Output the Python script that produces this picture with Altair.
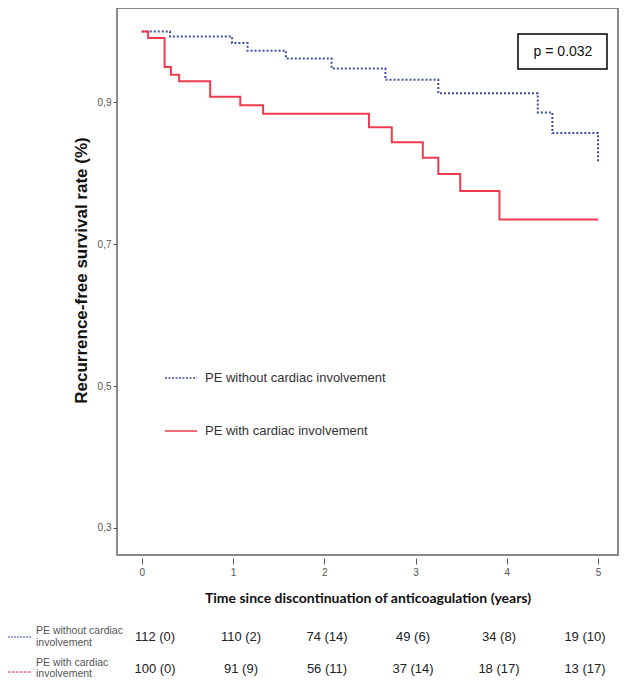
import altair as alt
import pandas as pd

# ---- data ----
blue_name = "PE without cardiac involvement"
red_name = "PE with cardiac involvement"

blue_times = [0, 0.31, 0.99, 1.16, 1.58, 2.08, 2.67, 3.25, 4.34, 4.50, 5.0]
blue_surv = [1.0, 0.993, 0.984, 0.973, 0.962, 0.948, 0.932, 0.913, 0.886, 0.857, 0.816]

red_times = [0, 0.07, 0.25, 0.32, 0.41, 0.75, 1.08, 1.33, 2.49, 2.74, 3.08, 3.25, 3.49, 3.92, 5.0]
red_surv = [1.0, 0.991, 0.950, 0.939, 0.930, 0.908, 0.896, 0.884, 0.865, 0.844, 0.822, 0.799, 0.775, 0.735, 0.735]

risk_years = [0, 1, 2, 3, 4, 5]
blue_at_risk = ["112 (0)", "110 (2)", "74 (14)", "49 (6)", "34 (8)", "19 (10)"]
red_at_risk = ["100 (0)", "91  (9)", "56 (11)", "37 (14)", "18 (17)", "13 (17)"]

x_ticks = [0, 1, 2, 3, 4, 5]
y_ticks = [0.3, 0.5, 0.7, 0.9]
p_text = "p = 0.032"

BLUE = "#3d4e9e"
RED = "#ef3b4c"
FONT = "Liberation Sans"

curves = pd.DataFrame(
    {"series": [blue_name] * len(blue_times) + [red_name] * len(red_times),
     "t": blue_times + red_times,
     "s": blue_surv + red_surv}
)
risk = pd.DataFrame(
    {"year": risk_years * 2,
     "txt": blue_at_risk + red_at_risk,
     "row": [0] * 6 + [1] * 6}
)

W, H = 501, 547

xscale = alt.Scale(domain=[-0.271, 5.219], nice=False, zero=False)
yscale = alt.Scale(domain=[0.2619, 1.0332], nice=False, zero=False)

lines = alt.Chart(curves).mark_line(interpolate="step-after", strokeWidth=2).encode(
    x=alt.X("t:Q", scale=xscale,
            axis=alt.Axis(values=x_ticks, format="d", grid=False, domain=False,
                          offset=3, tickSize=6, tickColor="#555", labelPadding=3,
                          labelFont=FONT, labelFontSize=10, labelColor="#555",
                          title="Time since discontinuation of anticoagulation (years)",
                          titleFont="Lato", titleFontSize=14, titleFontWeight="bold",
                          titleColor="#111", titleY=40, titleBaseline="middle")),
    y=alt.Y("s:Q", scale=yscale,
            axis=alt.Axis(values=y_ticks, grid=False, domain=False, tickSize=4,
                          tickColor="#555", labelPadding=2, labelFont=FONT,
                          labelFontSize=10, labelColor="#555",
                          labelExpr="replace(format(datum.value, '.1f'), '.', ',')",
                          title="Recurrence-free survival rate (%)",
                          titleFont=FONT, titleFontSize=17, titleFontWeight="bold",
                          titleColor="#111", titleAngle=270, titleX=-36, titleY=262,
                          titleAlign="center", titleBaseline="middle")),
    color=alt.Color("series:N", scale=alt.Scale(domain=[blue_name, red_name], range=[BLUE, RED]), legend=None),
    strokeDash=alt.StrokeDash("series:N", scale=alt.Scale(domain=[blue_name, red_name], range=[[2, 2], [1, 0]]), legend=None),
)

# p-value box
pbox = alt.Chart(pd.DataFrame({"a": [0]})).mark_rect(fill="white", stroke="black", strokeWidth=1.5).encode(
    x=alt.value(401), x2=alt.value(490), y=alt.value(26), y2=alt.value(61))
ptext = alt.Chart(pd.DataFrame({"a": [0]})).mark_text(font=FONT, fontSize=14, color="#111").encode(
    x=alt.value(446), y=alt.value(44), text=alt.value(p_text))

# in-plot legend
leg_df = pd.DataFrame({"a": [0]})
leg_blue_line = alt.Chart(leg_df).mark_rule(color=BLUE, strokeWidth=1.5, strokeDash=[2, 1.5]).encode(
    x=alt.value(48), x2=alt.value(80), y=alt.value(370))
leg_blue_txt = alt.Chart(leg_df).mark_text(font=FONT, fontSize=13, color="#333", align="left", baseline="middle").encode(
    x=alt.value(88), y=alt.value(370), text=alt.value(blue_name))
leg_red_line = alt.Chart(leg_df).mark_rule(color=RED, strokeWidth=1.5).encode(
    x=alt.value(48), x2=alt.value(80), y=alt.value(423))
leg_red_txt = alt.Chart(leg_df).mark_text(font=FONT, fontSize=13, color="#333", align="left", baseline="middle").encode(
    x=alt.value(88), y=alt.value(423), text=alt.value(red_name))

# risk table
tscale = alt.Scale(domain=[-0.442, 5.384], nice=False, zero=False)
risk_row0 = alt.Chart(risk).transform_filter("datum.row == 0").mark_text(
    font=FONT, fontSize=13, color="#222", baseline="middle").encode(
    x=alt.X("year:Q", scale=tscale, axis=None), y=alt.value(629), text="txt:N")
risk_row1 = alt.Chart(risk).transform_filter("datum.row == 1").mark_text(
    font=FONT, fontSize=13, color="#222", baseline="middle").encode(
    x=alt.X("year:Q", scale=tscale, axis=None), y=alt.value(661), text="txt:N")

tab_blue_line = alt.Chart(leg_df).mark_rule(color=BLUE, strokeWidth=1, strokeDash=[2, 1]).encode(
    x=alt.value(-109), x2=alt.value(-85), y=alt.value(629))
tab_red_line = alt.Chart(leg_df).mark_rule(color=RED, strokeWidth=1, strokeDash=[3, 1]).encode(
    x=alt.value(-109), x2=alt.value(-85), y=alt.value(664))
lab_style = dict(font=FONT, fontSize=10.5, color="#555", align="left", baseline="middle")
tab_lab1a = alt.Chart(leg_df).mark_text(**lab_style).encode(x=alt.value(-81), y=alt.value(623), text=alt.value("PE without cardiac"))
tab_lab1b = alt.Chart(leg_df).mark_text(**lab_style).encode(x=alt.value(-81), y=alt.value(635), text=alt.value("involvement"))
tab_lab2a = alt.Chart(leg_df).mark_text(**lab_style).encode(x=alt.value(-81), y=alt.value(655), text=alt.value("PE with cardiac"))
tab_lab2b = alt.Chart(leg_df).mark_text(**lab_style).encode(x=alt.value(-81), y=alt.value(666), text=alt.value("involvement"))

chart = alt.layer(
    lines, pbox, ptext, leg_blue_line, leg_blue_txt, leg_red_line, leg_red_txt,
    risk_row0, risk_row1, tab_blue_line, tab_red_line,
    tab_lab1a, tab_lab1b, tab_lab2a, tab_lab2b,
).resolve_scale(x="independent").properties(
    width=W, height=H,
    autosize=alt.AutoSizeParams(type="none"),
    padding={"left": 109, "top": 0, "right": 3, "bottom": 123},
    background="white",
).configure_view(stroke="#666", strokeWidth=1.5)

chart.save("out.html", embed_options={"renderer": "svg", "actions": False})
